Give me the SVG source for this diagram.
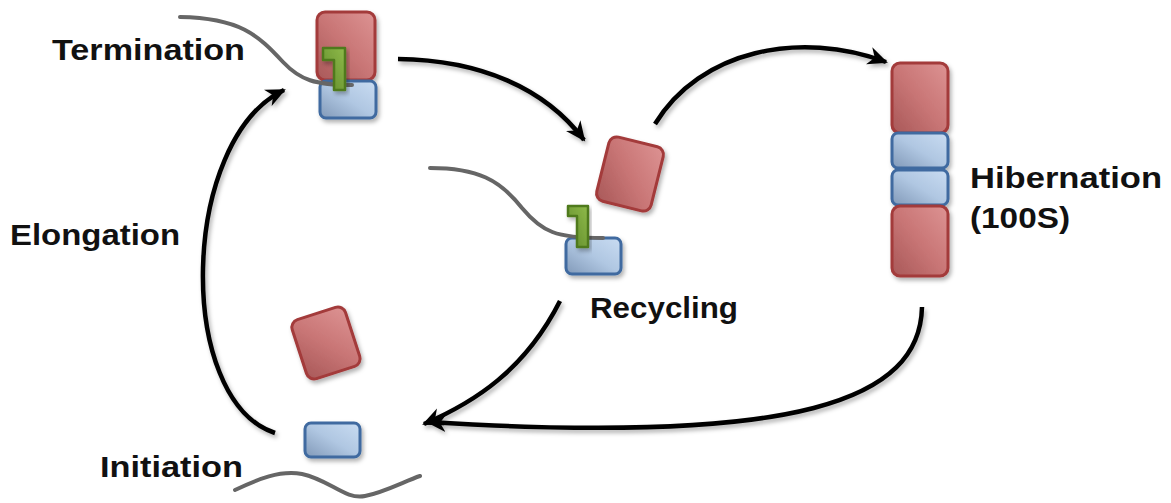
<svg xmlns="http://www.w3.org/2000/svg" width="1171" height="503" viewBox="0 0 1171 503">
<defs>
<linearGradient id="gRed" x1="1" y1="0" x2="0" y2="1">
<stop offset="0" stop-color="#dd9393"/>
<stop offset="0.5" stop-color="#c97676"/>
<stop offset="1" stop-color="#a85858"/>
</linearGradient>
<linearGradient id="gBlue" x1="1" y1="0" x2="0" y2="1">
<stop offset="0" stop-color="#c9dcf2"/>
<stop offset="0.5" stop-color="#b0c7e2"/>
<stop offset="1" stop-color="#8199b8"/>
</linearGradient>
<linearGradient id="gGreen" x1="1" y1="0" x2="0" y2="1">
<stop offset="0" stop-color="#8fba4a"/>
<stop offset="1" stop-color="#5f8a2a"/>
</linearGradient>
<filter id="sh" x="-20%" y="-20%" width="140%" height="140%">
<feDropShadow dx="2" dy="3" stdDeviation="2" flood-color="#000" flood-opacity="0.3"/>
</filter>
<marker id="ah" markerUnits="userSpaceOnUse" markerWidth="22" markerHeight="20" viewBox="0 0 22 20" refX="18" refY="10" orient="auto">
<path d="M0,1 L20,10 L0,19 L6,10 Z" fill="#000"/>
</marker>
<style>
.red{fill:url(#gRed);stroke:#a33a3a;stroke-width:3}
.blue{fill:url(#gBlue);stroke:#3f6aa0;stroke-width:3}
.grn{fill:url(#gGreen);stroke:#4f7a1f;stroke-width:2.5;stroke-linejoin:round}
.mrna{fill:none;stroke:#666;stroke-width:4;stroke-linecap:round}
.arr{fill:none;stroke:#000;stroke-width:4.5;marker-end:url(#ah)}
.lbl{font-family:"Liberation Sans",Arial,sans-serif;font-weight:bold;font-size:29px;fill:#111}
</style>
</defs>
<rect width="1171" height="503" fill="#fff"/>

<g id="connectors" filter="url(#sh)">
<path class="arr" d="M275,433 C175,400 180,140 284,90"/>
<path class="arr" d="M398,59 C480,60 545,88 584,140"/>
<path class="arr" d="M655,124 C700,50 800,30 886,62"/>
<path class="arr" d="M560,301 C525,370 475,402 424,424"/>
<path class="arr" d="M922,307 C920,400 800,445 428,422"/>
</g>

<g id="termination">
<g filter="url(#sh)">
<rect class="red" x="317" y="12" width="58" height="68" rx="8"/>
<rect class="blue" x="320" y="81" width="56" height="37" rx="6"/>
</g>
<path class="mrna" d="M180,17 C240,18 258,35 283,62 C300,80 315,85 352,85"/>
<polygon class="grn" points="323,48 345,48 345,90 334,90 334,60 323,60" filter="url(#sh)"/>
<text class="lbl" x="52" y="60" textLength="193" lengthAdjust="spacingAndGlyphs">Termination</text>
</g>

<g id="recycling">
<g filter="url(#sh)">
<rect class="red" x="602" y="141" width="56" height="66" rx="8" transform="rotate(14 630 174)"/>
<rect class="blue" x="566" y="238" width="55" height="36" rx="6"/>
</g>
<path class="mrna" d="M430,168 C478,168 500,180 522,208 C542,232 556,238 603,238"/>
<polygon class="grn" points="568,206 588,206 588,247 577,247 577,216 568,216" filter="url(#sh)"/>
<text class="lbl" x="590" y="318" textLength="148" lengthAdjust="spacingAndGlyphs">Recycling</text>
</g>

<g id="hibernation">
<g filter="url(#sh)">
<rect class="red" x="892" y="63" width="56" height="70" rx="8"/>
<rect class="blue" x="892" y="133" width="56" height="35" rx="6"/>
<rect class="blue" x="892" y="170" width="56" height="35" rx="6"/>
<rect class="red" x="892" y="206" width="56" height="70" rx="8"/>
</g>
<text class="lbl" x="970" y="188" textLength="192" lengthAdjust="spacingAndGlyphs">Hibernation</text>
<text class="lbl" x="970" y="228" textLength="100" lengthAdjust="spacingAndGlyphs">(100S)</text>
</g>

<g id="initiation">
<g filter="url(#sh)">
<rect class="red" x="298" y="312" width="56" height="62" rx="8" transform="rotate(-18 326 343)"/>
<rect class="blue" x="305" y="423" width="55" height="34" rx="6"/>
</g>
<path class="mrna" d="M235,490 C258,479 280,470 302,474 C330,480 345,500 365,496 C385,492 405,481 420,476"/>
<text class="lbl" x="100" y="477" textLength="143" lengthAdjust="spacingAndGlyphs">Initiation</text>
</g>

<g id="elongation">
<text class="lbl" x="10" y="245" textLength="170" lengthAdjust="spacingAndGlyphs">Elongation</text>
</g>
</svg>
